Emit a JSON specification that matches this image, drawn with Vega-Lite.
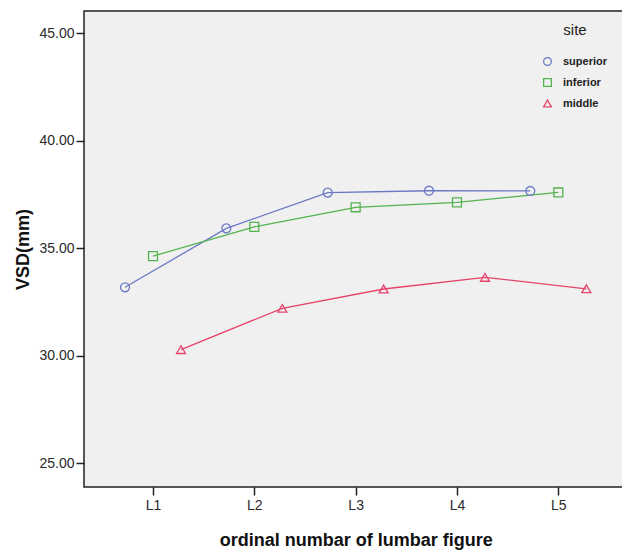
{
  "$schema": "https://vega.github.io/schema/vega-lite/v6.json",
  "autosize": {"type": "none"},
  "width": 540,
  "height": 476,
  "padding": {"left": 84, "top": 11, "right": 0, "bottom": 67},
  "background": "#ffffff",
  "config": {
    "font": "Liberation Sans",
    "view": {"stroke": "#222222", "strokeWidth": 1.5, "fill": "#f0f0f0"},
    "axis": {"grid": false, "domain": false, "tickColor": "#222222", "tickWidth": 1.5, "tickSize": 8, "labelColor": "#2a2a2a", "labelFontSize": 14, "titleColor": "#111111", "titleFontSize": 18, "titleFontWeight": "bold"}
  },
  "data": {
    "values": [
      {"level": "L1", "site": "superior", "vsd": 33.19},
      {"level": "L2", "site": "superior", "vsd": 35.93},
      {"level": "L3", "site": "superior", "vsd": 37.59},
      {"level": "L4", "site": "superior", "vsd": 37.68},
      {"level": "L5", "site": "superior", "vsd": 37.67},
      {"level": "L1", "site": "inferior", "vsd": 34.64},
      {"level": "L2", "site": "inferior", "vsd": 36.00},
      {"level": "L3", "site": "inferior", "vsd": 36.91},
      {"level": "L4", "site": "inferior", "vsd": 37.14},
      {"level": "L5", "site": "inferior", "vsd": 37.60},
      {"level": "L1", "site": "middle", "vsd": 30.29},
      {"level": "L2", "site": "middle", "vsd": 32.21},
      {"level": "L3", "site": "middle", "vsd": 33.11},
      {"level": "L4", "site": "middle", "vsd": 33.65},
      {"level": "L5", "site": "middle", "vsd": 33.12}
    ]
  },
  "encoding": {
    "x": {
      "field": "level", "type": "ordinal",
      "scale": {"type": "point", "range": [69, 474.3], "padding": 0},
      "axis": {"title": "ordinal numbar of lumbar figure", "labelAngle": 0, "labelPadding": 3, "titlePadding": 19}
    },
    "xOffset": {
      "field": "site", "type": "nominal",
      "scale": {"type": "point", "domain": ["superior", "inferior", "middle"], "range": [-28, 28], "padding": 0}
    },
    "y": {
      "field": "vsd", "type": "quantitative",
      "scale": {"domain": [23.9, 46.04], "nice": false, "zero": false},
      "axis": {"title": "VSD(mm)", "values": [25, 30, 35, 40, 45], "format": ".2f", "labelPadding": 2, "titlePadding": 6}
    },
    "color": {
      "field": "site", "type": "nominal",
      "scale": {"domain": ["superior", "inferior", "middle"], "range": ["#6a78c4", "#52b34f", "#e5436a"]},
      "legend": {
        "title": "site", "orient": "none", "legendX": 458, "legendY": 12,
        "titleFontSize": 15, "titleFontWeight": "normal", "titleColor": "#222222", "titleAnchor": "middle", "titlePadding": 18,
        "labelFontSize": 11, "labelFontWeight": "bold", "labelColor": "#222222", "labelOffset": 10, "rowPadding": 8,
        "symbolStrokeWidth": 1.3, "symbolSize": 60, "symbolFillColor": "transparent"
      }
    }
  },
  "layer": [
    {
      "mark": {"type": "line", "strokeWidth": 1.3}
    },
    {
      "mark": {"type": "point", "filled": false, "size": 80, "strokeWidth": 1.3, "opacity": 1},
      "encoding": {
        "shape": {
          "field": "site", "type": "nominal",
          "scale": {"domain": ["superior", "inferior", "middle"], "range": ["circle", "square", "triangle-up"]}
        }
      }
    }
  ]
}
